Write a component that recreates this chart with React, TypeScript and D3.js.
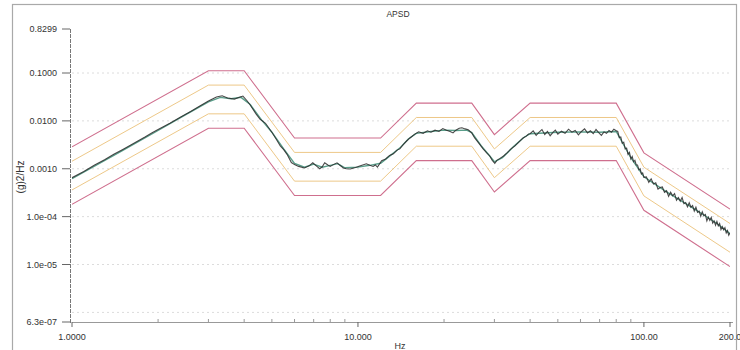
import React, { useEffect, useRef } from 'react';
import * as d3 from 'd3';

// reference profile breakpoints (Hz, g^2/Hz)
const profileFreq = [1, 3, 4, 6, 12, 16, 25, 30, 40, 80, 100, 200];
const profileRef = [0.00072, 0.028, 0.028, 0.0011, 0.0011, 0.0059, 0.0059, 0.0013, 0.0059, 0.0059, 0.00054, 0.000036];
// tolerance lines in dB: abort (+6/-6), alarm (+3/-3)
const limitDb = [6, 3, -3, -6];

// control (smoothed) spectrum
const control: [number, number][] = [
  [1, 6.2e-4], [1.5, 2.4e-3], [2, 6.3e-3], [2.5, 0.0135], [3, 0.025], [3.3, 0.031], [3.6, 0.029],
  [3.9, 0.031], [4.2, 0.022], [4.6, 0.0105], [5, 0.0058], [5.5, 0.0026], [6, 0.0013], [6.5, 0.00108],
  [7, 0.00125], [7.5, 0.00108], [8, 0.00118], [8.5, 0.00128], [9, 0.00105], [10, 0.00108], [11, 0.00118],
  [12, 0.0013], [13, 0.0019], [14, 0.0027], [15, 0.0042], [16, 0.0055], [18, 0.006], [20, 0.0064],
  [22, 0.0063], [24, 0.0064], [25, 0.0057], [27, 0.003], [29, 0.0018], [30, 0.0014], [32, 0.0017],
  [35, 0.0029], [38, 0.0045], [40, 0.0054], [50, 0.0058], [60, 0.0059], [70, 0.0058], [80, 0.006],
  [90, 0.0017], [100, 0.00068], [120, 3.3e-4], [150, 1.45e-4], [180, 7.2e-5], [200, 4.4e-5],
];

// measured response
const measured: [number, number][] = [
  [1.0, 6.5e-4], [1.1, 8.8e-4], [1.2, 1.2e-3], [1.3, 1.55e-3], [1.4, 2.0e-3], [1.5, 2.5e-3],
  [1.6, 3.1e-3], [1.7, 3.8e-3], [1.8, 4.6e-3], [1.9, 5.6e-3], [2.0, 6.6e-3], [2.2, 8.9e-3],
  [2.4, 0.012], [2.6, 0.0157], [2.8, 0.0205], [3.0, 0.026], [3.2, 0.0315], [3.35, 0.0335],
  [3.5, 0.03], [3.7, 0.0285], [3.85, 0.031], [3.96, 0.033], [4.1, 0.026], [4.2, 0.0215],
  [4.4, 0.014], [4.55, 0.0108], [4.75, 0.0089], [5.0, 0.0058], [5.2, 0.004], [5.35, 0.003],
  [5.5, 0.0025], [5.65, 0.002], [5.85, 0.00135], [6.0, 0.00122], [6.2, 0.00112], [6.5, 0.00104],
  [6.75, 0.00115], [6.95, 0.00133], [7.15, 0.00115], [7.35, 0.001], [7.5, 0.0011], [7.65, 0.00133],
  [7.85, 0.0012], [8.0, 0.00112], [8.2, 0.00122], [8.45, 0.00133], [8.65, 0.00118], [8.9, 0.00104],
  [9.1, 0.001], [9.4, 0.00099], [9.8, 0.00106], [10.2, 0.00115], [10.7, 0.00127], [11.0, 0.00118],
  [11.3, 0.00112], [11.5, 0.0012], [11.7, 0.00108], [12.1, 0.00147], [12.5, 0.0016], [12.9, 0.0019],
  [13.3, 0.00205], [13.7, 0.00245], [14.0, 0.0026], [14.4, 0.0032], [14.8, 0.0038], [15.2, 0.0044],
  [15.8, 0.0053], [16.3, 0.0059], [16.9, 0.0055], [17.5, 0.0062], [18.0, 0.0058], [18.6, 0.0064],
  [19.2, 0.006], [19.8, 0.0069], [20.4, 0.0064], [21.0, 0.006], [21.5, 0.0056], [22.0, 0.0064],
  [22.6, 0.007], [23.1, 0.0072], [23.7, 0.0068], [24.3, 0.0065], [25.0, 0.0056], [25.6, 0.0044],
  [26.5, 0.0034], [27.4, 0.0026], [28.2, 0.00215], [28.9, 0.00185], [29.5, 0.0015], [30.1, 0.0013],
  [30.6, 0.0015], [31.4, 0.00165], [32.3, 0.00185], [33.2, 0.00215], [34.3, 0.0026], [35.4, 0.003],
  [36.5, 0.0036], [37.8, 0.0044], [38.8, 0.0048], [39.5, 0.0053], [40, 0.0054], [41, 0.0062],
  [42, 0.005], [43, 0.0058], [44, 0.0066], [45, 0.0052], [46, 0.006], [47, 0.0049], [48, 0.0057],
  [49, 0.0064], [50, 0.0053], [51.5, 0.0061], [53, 0.0055], [54.5, 0.0067], [56, 0.0058],
  [57.5, 0.0063], [59, 0.0051], [60.5, 0.006], [62, 0.0068], [63.5, 0.0056], [65, 0.0062],
  [66.5, 0.0054], [68, 0.0066], [69.5, 0.0057], [71, 0.005], [72.5, 0.0059], [74, 0.0055],
  [75.5, 0.0063], [77, 0.0058], [78.5, 0.0067], [80, 0.0062], [81, 0.006], [82, 0.0045],
  [83, 0.0046], [84, 0.0034], [85, 0.0036], [86, 0.0026], [87, 0.0027], [88, 0.002], [89, 0.0022],
  [90, 0.0016], [91, 0.0018], [92, 0.0014], [93, 0.0015], [94, 0.0012], [95, 0.0012], [96, 0.00095],
  [97, 0.001], [98, 0.00078], [99, 0.00082], [100, 0.00066], [102, 6.76e-4], [104, 5.19e-4],
  [106, 6.17e-4], [108, 4.79e-4], [110, 5.07e-4], [112, 3.76e-4], [114, 4.07e-4], [116, 4.17e-4],
  [118, 3.2e-4], [120, 3.47e-4], [122, 2.66e-4], [124, 3.24e-4], [126, 2.72e-4], [128, 3.02e-4],
  [130, 2.21e-4], [132, 2.51e-4], [134, 2.09e-4], [136, 2.51e-4], [138, 1.86e-4], [140, 1.97e-4],
  [142, 1.6e-4], [144, 1.95e-4], [146, 1.57e-4], [148, 1.7e-4], [150, 1.3e-4], [152, 1.58e-4],
  [154, 1.23e-4], [156, 1.3e-4], [158, 1.02e-4], [160, 1.26e-4], [162, 1.05e-4], [164, 1.11e-4],
  [166, 8.13e-5], [168, 9.77e-5], [170, 8.32e-5], [172, 9.66e-5], [174, 7.33e-5], [176, 8.13e-5],
  [178, 6.61e-5], [180, 7.94e-5], [182, 6.38e-5], [184, 7.16e-5], [186, 5.37e-5], [188, 6.17e-5],
  [190, 5.31e-5], [192, 5.89e-5], [194, 4.57e-5], [196, 5.13e-5], [198, 4.07e-5], [200, 4.57e-5],
];

const yTickValues = [0.8299, 0.1, 0.01, 0.001, 1e-4, 1e-5, 6.3e-7];
const yTickLabels = ['0.8299', '0.1000', '0.0100', '0.0010', '1.0e-04', '1.0e-05', '6.3e-07'];
const xTickValues = [1, 10, 100, 200];
const xTickLabels = ['1.0000', '10.000', '100.00', '200.0'];
const gridValues = [0.1, 0.01, 0.001, 1e-4, 1e-5, 1e-6];

const APSDChart = () => {
  const svgRef = useRef<SVGSVGElement>(null);

  useEffect(() => {
    document.body.style.margin = '0';
    const svg = d3.select(svgRef.current);
    svg.selectAll('*').remove();

    const width = 740;
    const height = 350;
    const plot = { left: 72, right: 730, top: 29, bottom: 322 };
    const font = "'Liberation Sans', Arial, sans-serif";

    const x = d3.scaleLog().domain([1, 200]).range([plot.left, plot.right]);
    const y = d3.scaleLog().domain([6.3e-7, 0.8299]).range([plot.bottom, plot.top]);

    svg.append('rect').attr('width', width).attr('height', height).attr('fill', '#fff');

    // outer frame
    svg.append('rect')
      .attr('x', 12.5).attr('y', 4.5)
      .attr('width', 724).attr('height', 350)
      .attr('fill', 'none').attr('stroke', '#a9a9a9').attr('stroke-width', 1.2);

    svg.append('text')
      .attr('x', 398).attr('y', 17)
      .attr('text-anchor', 'middle')
      .attr('font-family', font).attr('font-size', 8.5)
      .attr('fill', '#333')
      .text('APSD');

    // dotted grid
    svg.append('g')
      .selectAll('line')
      .data(gridValues)
      .join('line')
      .attr('x1', plot.left).attr('x2', plot.right)
      .attr('y1', d => y(d)).attr('y2', d => y(d))
      .attr('stroke', '#dcdcdc')
      .attr('stroke-dasharray', '2,3');

    // y axis
    svg.append('line')
      .attr('x1', 70.5).attr('x2', 70.5)
      .attr('y1', plot.top).attr('y2', plot.bottom + 2)
      .attr('stroke', '#777').attr('stroke-dasharray', '4,1');

    const yTicks = svg.append('g');
    yTicks.selectAll('line')
      .data(yTickValues)
      .join('line')
      .attr('x1', 62).attr('x2', 70)
      .attr('y1', d => y(d)).attr('y2', d => y(d))
      .attr('stroke', '#666');
    yTicks.selectAll('text')
      .data(yTickValues)
      .join('text')
      .attr('x', 57)
      .attr('y', d => y(d))
      .attr('dy', '0.35em')
      .attr('text-anchor', 'end')
      .attr('font-family', font).attr('font-size', 9)
      .attr('fill', '#333')
      .text((d, i) => yTickLabels[i]);

    svg.append('text')
      .attr('transform', `translate(24, 177) rotate(-90)`)
      .attr('text-anchor', 'middle')
      .attr('font-family', font).attr('font-size', 10)
      .attr('fill', '#333')
      .text('(g)2/Hz');

    // x axis
    svg.append('line')
      .attr('x1', plot.left).attr('x2', plot.right + 3)
      .attr('y1', plot.bottom + 0.5).attr('y2', plot.bottom + 0.5)
      .attr('stroke', '#999');

    const minor = [2, 3, 4, 5, 6, 7, 8, 9, 20, 30, 40, 50, 60, 70, 80, 90];
    svg.append('g')
      .selectAll('line')
      .data(minor)
      .join('line')
      .attr('x1', d => x(d)).attr('x2', d => x(d))
      .attr('y1', plot.bottom).attr('y2', plot.bottom - 3)
      .attr('stroke', '#999');

    const xTicks = svg.append('g');
    xTicks.selectAll('line')
      .data(xTickValues)
      .join('line')
      .attr('x1', d => x(d)).attr('x2', d => x(d))
      .attr('y1', plot.bottom).attr('y2', plot.bottom + 5)
      .attr('stroke', '#666');
    xTicks.selectAll('text')
      .data(xTickValues)
      .join('text')
      .attr('x', d => x(d))
      .attr('y', 340)
      .attr('text-anchor', 'middle')
      .attr('font-family', font).attr('font-size', 9)
      .attr('fill', '#333')
      .text((d, i) => xTickLabels[i]);

    svg.append('text')
      .attr('x', 400).attr('y', 349)
      .attr('text-anchor', 'middle')
      .attr('font-family', font).attr('font-size', 9)
      .attr('fill', '#333')
      .text('Hz');

    // curves
    svg.append('clipPath').attr('id', 'plot-clip')
      .append('rect')
      .attr('x', plot.left).attr('y', plot.top)
      .attr('width', plot.right - plot.left).attr('height', plot.bottom - plot.top);

    const g = svg.append('g').attr('clip-path', 'url(#plot-clip)');
    const line = d3.line<[number, number]>()
      .x(d => x(d[0]))
      .y(d => y(d[1]));

    limitDb.forEach(db => {
      const pts = profileFreq.map((f, i) => [f, profileRef[i] * Math.pow(10, db / 10)] as [number, number]);
      g.append('path')
        .datum(pts)
        .attr('fill', 'none')
        .attr('stroke', Math.abs(db) === 6 ? '#cf6f8e' : '#ebc27a')
        .attr('stroke-width', Math.abs(db) === 6 ? 1.1 : 0.9)
        .attr('d', line);
    });

    g.append('path')
      .datum(control)
      .attr('fill', 'none')
      .attr('stroke', '#5a9e8a')
      .attr('stroke-width', 1.4)
      .attr('d', line);

    g.append('path')
      .datum(measured)
      .attr('fill', 'none')
      .attr('stroke', '#2a2a2a')
      .attr('stroke-width', 1.1)
      .attr('stroke-opacity', 0.85)
      .attr('d', line);
  }, []);

  return <svg ref={svgRef} width={740} height={350} style={{ display: 'block' }} />;
};

export default function App() {
  return <APSDChart />;
}
